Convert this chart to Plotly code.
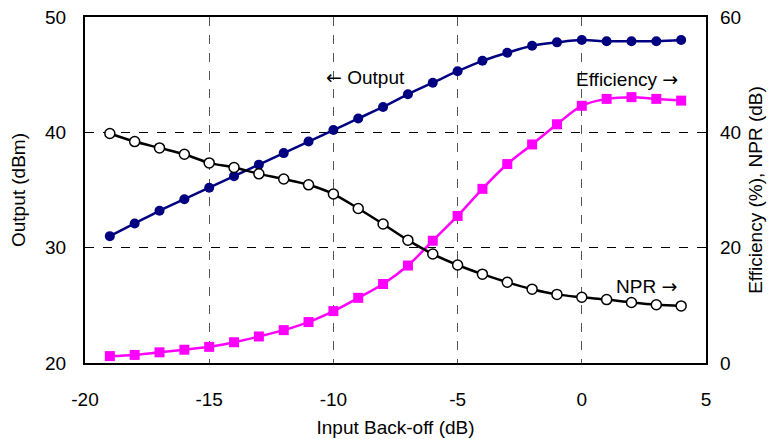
import plotly.graph_objects as go

x_backoff = [-19, -18, -17, -16, -15, -14, -13, -12, -11, -10, -9, -8, -7, -6, -5, -4, -3, -2, -1, 0, 1, 2, 3, 4]
output_dbm = [31.0, 32.1, 33.2, 34.2, 35.2, 36.2, 37.2, 38.2, 39.2, 40.2, 41.2, 42.2, 43.3, 44.3, 45.3, 46.2, 46.9, 47.5, 47.8, 48.0, 47.9, 47.9, 47.9, 48.0]
efficiency = [1.2, 1.4, 1.85, 2.3, 2.8, 3.6, 4.6, 5.7, 7.1, 9.0, 11.3, 13.7, 16.9, 21.2, 25.5, 30.2, 34.5, 37.9, 41.4, 44.6, 45.8, 46.1, 45.8, 45.5]
npr = [39.8, 38.4, 37.3, 36.2, 34.7, 33.9, 32.8, 31.9, 30.9, 29.3, 26.8, 24.1, 21.3, 18.9, 17.0, 15.4, 14.0, 12.8, 11.9, 11.4, 11.0, 10.5, 10.1, 9.9]

x_tickvals = [-20, -15, -10, -5, 0, 5]
x_ticktext = ["-20", "-15", "-10", "-5", "0", "5"]

FONT = "Liberation Sans, Arial, sans-serif"
FS = 19
ARROW = "<span style='font-family:DejaVu Sans'>{}</span>"

fig = go.Figure()
fig.add_trace(go.Scatter(x=x_backoff, y=efficiency, yaxis="y2", mode="lines+markers",
                         line=dict(color="#FF00FF", width=2.5, shape="spline"),
                         marker=dict(symbol="square", size=10, color="#FF00FF"), name="Efficiency"))
fig.add_trace(go.Scatter(x=x_backoff, y=npr, yaxis="y2", mode="lines+markers",
                         line=dict(color="black", width=2.5, shape="spline"),
                         marker=dict(symbol="circle", size=10, color="white", line=dict(color="black", width=1.5)), name="NPR"))
fig.add_trace(go.Scatter(x=x_backoff, y=output_dbm, mode="lines+markers",
                         line=dict(color="#000080", width=2.5, shape="spline"),
                         marker=dict(symbol="circle", size=10, color="#000080"), name="Output"))

fig.add_annotation(x=-8.7, y=44.8, text=ARROW.format("←") + " Output", showarrow=False, font=dict(size=FS, color="black", family=FONT))
fig.add_annotation(x=1.8, y=44.6, text="Efficiency " + ARROW.format("→"), showarrow=False, font=dict(size=FS, color="black", family=FONT))
fig.add_annotation(x=2.6, y=26.7, text="NPR " + ARROW.format("→"), showarrow=False, font=dict(size=FS, color="black", family=FONT))

# page body has an 8px margin, so the figure is offset by (8, 8)
fig.update_layout(
    width=772, height=431,
    margin=dict(l=77, r=74, t=9, b=76),
    paper_bgcolor="white", plot_bgcolor="white",
    showlegend=False,
    font=dict(family=FONT, size=FS, color="black"),
    xaxis=dict(range=[-20, 5], tickvals=x_tickvals, ticktext=x_ticktext,
               showgrid=True, gridcolor="#555555", griddash="dash", gridwidth=1.2,
               showline=True, linecolor="black", linewidth=2, mirror=True, zeroline=False, automargin=False,
               ticks="", ticklabelstandoff=18, ticklabeloverflow="allow",
               title=dict(text="Input Back-off (dB)", font=dict(size=FS), standoff=12)),
    yaxis=dict(range=[20, 50], dtick=10, showgrid=True, gridcolor="black", griddash="dash", gridwidth=1,
               showline=True, linecolor="black", linewidth=2, mirror=True, zeroline=False, automargin=False,
               ticks="", ticklabelstandoff=13, ticklabeloverflow="allow",
               title=dict(text="Output (dBm)", font=dict(size=FS), standoff=14)),
    yaxis2=dict(range=[0, 60], dtick=20, overlaying="y", side="right", showgrid=False, zeroline=False,
                showline=False, ticks="", ticklabelstandoff=13, automargin=False, ticklabeloverflow="allow",
                title=dict(text="Efficiency (%), NPR (dB)", font=dict(size=FS), standoff=8)),
)

fig.write_html("out.html")
